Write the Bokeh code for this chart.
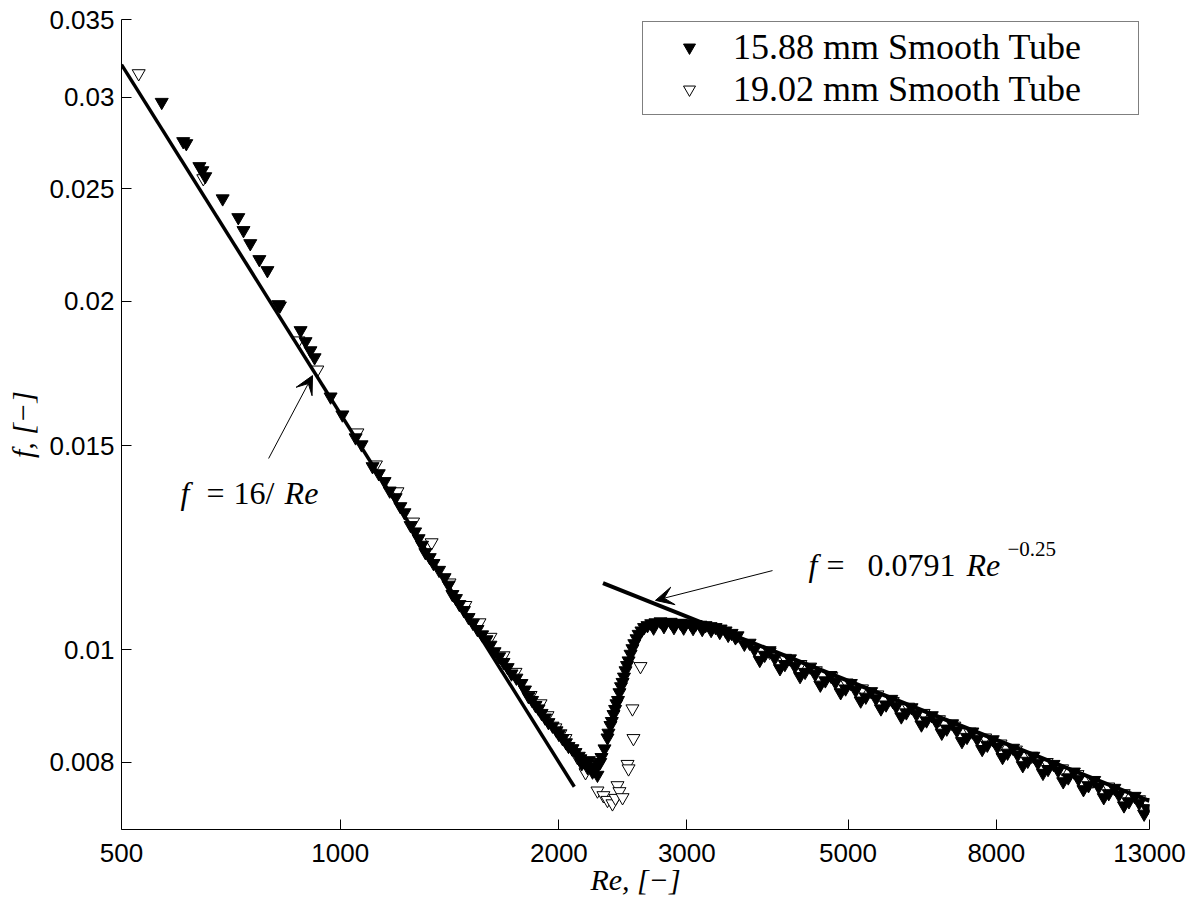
from bokeh.plotting import figure
from bokeh.models import (Range1d, FixedTicker, Label, Arrow, VeeHead, Legend,
                          LegendItem, ColumnDataSource)
from bokeh.embed import file_html
from bokeh.resources import INLINE

# ---------------- data ----------------
# 15.88 mm smooth tube (filled markers)
re_a_lam = [568, 608, 614, 640, 646, 652, 689, 724, 736, 752,
            774, 794, 822, 826, 882, 896, 910, 922, 970, 1007,
            1050, 1070, 1108, 1130, 1151, 1170, 1192, 1210, 1226, 1250,
            1268, 1282, 1296, 1310, 1328, 1344, 1368, 1392, 1410, 1427,
            1443, 1459, 1480, 1502, 1523, 1545, 1568, 1590, 1610, 1631,
            1655, 1678, 1700, 1721, 1748, 1776, 1796, 1816, 1837, 1857,
            1875, 1893, 1914, 1935, 1960, 1985, 2000, 2023, 2045, 2062,
            2085, 2108]
f_a_lam = [0.0297, 0.02747, 0.02736, 0.02614, 0.02593, 0.02562, 0.02452, 0.02362, 0.02302, 0.02243,
           0.02173, 0.02126, 0.01987, 0.01982, 0.01887, 0.01846, 0.01813, 0.01788, 0.01654, 0.01596,
           0.01525, 0.01504, 0.0144, 0.0142, 0.01398, 0.01372, 0.01354, 0.0133, 0.01314, 0.01281,
           0.01265, 0.01248, 0.01232, 0.01214, 0.01202, 0.01188, 0.01172, 0.01155, 0.01138, 0.01117,
           0.01108, 0.01095, 0.01082, 0.01067, 0.01055, 0.01042, 0.01031, 0.01021, 0.0101, 0.00997,
           0.00987, 0.00976, 0.00966, 0.00954, 0.00946, 0.00936, 0.00924, 0.00912, 0.00905, 0.00896,
           0.0089, 0.00882, 0.00874, 0.00866, 0.0086, 0.00852, 0.00846, 0.00839, 0.00832, 0.00826,
           0.00822, 0.00816]
re_a_trans = [2130, 2141, 2150, 2176, 2190, 2200, 2210, 2225, 2239, 2250,
              2260, 2267, 2280, 2289, 2311, 2333, 2340, 2355, 2365, 2378,
              2390, 2400, 2412, 2423, 2435, 2447, 2458, 2470, 2482, 2494,
              2510, 2525, 2540, 2558, 2575, 2598, 2620, 2648, 2680, 2716]
f_a_trans = [0.0081, 0.00806, 0.00798, 0.008, 0.00792, 0.00803, 0.00793, 0.00785, 0.00787, 0.00792,
             0.0078, 0.00797, 0.008, 0.00808, 0.00822, 0.0084, 0.00848, 0.00861, 0.00868, 0.0088,
             0.00889, 0.00899, 0.00905, 0.00919, 0.0093, 0.00938, 0.00948, 0.0096, 0.0097, 0.00979,
             0.00992, 0.01003, 0.01013, 0.01023, 0.01032, 0.01039, 0.01046, 0.0105, 0.01054, 0.01056]
re_a_plat = [2700, 2760, 2790, 2804, 2850, 2880, 2894, 2940, 2970, 2988,
             3036, 3060, 3084, 3133, 3150, 3183, 3234, 3240, 3286, 3330,
             3339, 3392, 3420, 3457, 3500, 3523]
f_a_plat = [0.01045, 0.01058, 0.01048, 0.01056, 0.01057, 0.01046, 0.01054, 0.01055, 0.01045, 0.01054,
            0.01053, 0.01044, 0.01052, 0.01051, 0.01042, 0.0105, 0.01048, 0.0104, 0.01046, 0.01036,
            0.01043, 0.01039, 0.0103, 0.01034, 0.01025, 0.01029]
re_a_turb = [3600, 3717, 3839, 3964, 4093, 4226, 4364, 4506, 4653, 4805,
             4962, 5123, 5290, 5463, 5641, 5825, 6015, 6211, 6413, 6622,
             6838, 7061, 7291, 7529, 7775, 8028, 8290, 8560, 8839, 9127,
             9425, 9732, 10049, 10377, 10715, 11065, 11425, 11798, 12182, 12579,
             12900,
             3780, 4030, 4295, 4580, 4885, 5205, 5550, 5920, 6310, 6730,
             7175, 7650, 8160, 8700, 9275, 9890, 10545, 11245, 11990, 12780,
             3660, 3900, 4160, 4435, 4730, 5045, 5380, 5735, 6115, 6520,
             6955, 7415, 7910, 8435, 8995, 9590, 10230, 10910, 11630, 12400]
f_a_turb = [0.01012, 0.01001, 0.0099, 0.00984, 0.00972, 0.00968, 0.00957, 0.00953, 0.00941, 0.00938,
            0.00926, 0.00923, 0.00911, 0.00908, 0.00897, 0.00894, 0.00883, 0.0088, 0.00869, 0.00866,
            0.00855, 0.00852, 0.00841, 0.00838, 0.00828, 0.00825, 0.00815, 0.00812, 0.00802, 0.00799,
            0.00789, 0.00787, 0.00776, 0.00774, 0.00764, 0.00762, 0.00752, 0.0075, 0.0074, 0.00738,
            0.0073,
            0.0098, 0.00964, 0.00949, 0.00933, 0.00919, 0.00904, 0.0089, 0.00876, 0.00862, 0.00848,
            0.00834, 0.00821, 0.00808, 0.00795, 0.00783, 0.0077, 0.00758, 0.00746, 0.00734, 0.00722,
            0.01014, 0.00999, 0.00983, 0.00967, 0.00951, 0.00936, 0.00921, 0.00907, 0.00892, 0.00878,
            0.00864, 0.0085, 0.00837, 0.00823, 0.0081, 0.00797, 0.00785, 0.00772, 0.0076, 0.00748]

# 19.02 mm smooth tube (open markers)
re_b_lam = [528, 648, 876, 930, 1056, 1120, 1199, 1260, 1336, 1414,
            1487, 1555, 1610, 1678, 1743, 1828, 1887, 1929, 1978, 2010,
            2042, 2088, 2121, 2176]
f_b_lam = [0.03144, 0.02552, 0.01849, 0.01745, 0.0154, 0.01445, 0.0137, 0.0129, 0.01238, 0.01143,
           0.01093, 0.01056, 0.01026, 0.00989, 0.00957, 0.00914, 0.00899, 0.00878, 0.00857, 0.00847,
           0.00839, 0.00822, 0.00808, 0.00784]
re_b_dip = [2260, 2303, 2333, 2370, 2393, 2408, 2423, 2447, 2486, 2494, 2525, 2533, 2590]
f_b_dip = [0.00756, 0.00749, 0.00742, 0.00737, 0.00745, 0.00764, 0.00755, 0.00746, 0.00797, 0.0079,
           0.0089, 0.00839, 0.00968]
re_b_turb = [3900, 4095, 4300, 4515, 4741, 4978, 5227, 5488, 5762, 6050,
             6353, 6671, 7004, 7354, 7722, 8108, 8513, 8939, 9386, 9855,
             10348, 10865, 11408, 11979, 12578, 12900]
f_b_turb = [0.00996, 0.00984, 0.00972, 0.0096, 0.00949, 0.00937, 0.00926, 0.00915, 0.00903, 0.00893,
            0.00882, 0.00871, 0.0086, 0.0085, 0.0084, 0.0083, 0.0082, 0.0081, 0.008, 0.0079,
            0.00781, 0.00771, 0.00762, 0.00752, 0.00743, 0.00739]

# correlation lines (end points)
lam_re = [500, 2100]
lam_f = [0.032, 0.00762]
turb_re = [2300, 13000]
turb_f = [0.01142, 0.00741]

# ticks
x_ticks = [500, 1000, 2000, 3000, 5000, 8000, 13000]
x_tick_labels = ["500", "1000", "2000", "3000", "5000", "8000", "13000"]
y_ticks = [0.008, 0.01, 0.015, 0.02, 0.025, 0.03, 0.035]
y_tick_labels = ["0.008", "0.01", "0.015", "0.02", "0.025", "0.03", "0.035"]

label_a = "15.88 mm Smooth Tube"
label_b = "19.02 mm Smooth Tube"

# ---------------- figure ----------------
src_a = ColumnDataSource(dict(re=re_a_lam + re_a_trans + re_a_plat + re_a_turb,
                              f=f_a_lam + f_a_trans + f_a_plat + f_a_turb))
src_b = ColumnDataSource(dict(re=re_b_lam + re_b_dip + re_b_turb,
                              f=f_b_lam + f_b_dip + f_b_turb))

p = figure(x_axis_type="log", y_axis_type="log",
           x_range=Range1d(500, 13000), y_range=Range1d(0.007, 0.035),
           frame_width=1028, frame_height=810,
           min_border_left=121, min_border_top=19, min_border_right=41, min_border_bottom=68,
           output_backend="svg", toolbar_location=None)
p.xgrid.visible = False
p.ygrid.visible = False
p.outline_line_color = None
p.background_fill_color = "white"
p.border_fill_color = "white"

for ax in (p.xaxis[0], p.yaxis[0]):
    ax.axis_line_color = "black"
    ax.axis_line_width = 1
    ax.major_tick_in = 10
    ax.major_tick_out = 0
    ax.major_tick_line_color = "black"
    ax.minor_tick_line_color = None
    ax.major_label_text_font = "Liberation Sans"
    ax.major_label_text_font_size = "26px"
    ax.major_label_text_color = "black"
    ax.axis_label_text_font = "Liberation Serif"
    ax.axis_label_text_font_style = "italic"
    ax.axis_label_text_font_size = "30px"
    ax.axis_label_text_color = "black"

p.xaxis.ticker = FixedTicker(ticks=x_ticks, minor_ticks=[])
p.yaxis.ticker = FixedTicker(ticks=y_ticks, minor_ticks=[])
p.xaxis.major_label_overrides = dict(zip(x_ticks, x_tick_labels))
p.yaxis.major_label_overrides = dict(zip(y_ticks, y_tick_labels))
p.xaxis.axis_label = "Re, [\u2212]"
p.yaxis.axis_label = "f, [\u2212]"
p.xaxis.major_label_standoff = 14
p.yaxis.major_label_standoff = 7
p.xaxis.axis_label_standoff = -2
p.yaxis.axis_label_standoff = 7

rb = p.scatter("re", "f", source=src_b, marker="inverted_triangle", size=13,
               fill_color="white", line_color="black", line_width=1)
ra = p.scatter("re", "f", source=src_a, marker="inverted_triangle", size=13,
               fill_color="black", line_color="black", line_width=1)

p.line(lam_re, lam_f, line_width=3.5, line_color="black")
p.line(turb_re, turb_f, line_width=4, line_color="black")

# annotations
p.add_layout(Arrow(end=VeeHead(size=18, fill_color="black", line_color="black"),
                   x_start=797, y_start=0.01463, x_end=916, y_end=0.01725,
                   line_width=1, line_color="black"))
p.add_layout(Arrow(end=VeeHead(size=18, fill_color="black", line_color="black"),
                   x_start=3936, y_start=0.011709, x_end=2716, y_end=0.011036,
                   line_width=1, line_color="black"))

def piece(x, y, dx, dy, txt, size, italic):
    p.add_layout(Label(x=x, y=y, x_offset=dx, y_offset=dy, text=txt,
                       text_font="Liberation Serif",
                       text_font_style="italic" if italic else "normal",
                       text_font_size=size, text_color="black",
                       text_align="left", text_baseline="middle"))

# f = 16/Re
ax1, ay1 = 603, 0.01367
piece(ax1, ay1, 0, 0, "f", "32px", True)
piece(ax1, ay1, 26, 0, "=", "32px", False)
piece(ax1, ay1, 53, 0, "16/", "32px", False)
piece(ax1, ay1, 104, 0, "Re", "32px", True)

# f = 0.0791 Re^-0.25
ax2, ay2 = 4411, 0.011828
piece(ax2, ay2, 0, 0, "f", "32px", True)
piece(ax2, ay2, 18, 0, "=", "32px", False)
piece(ax2, ay2, 59, 0, "0.0791", "32px", False)
piece(ax2, ay2, 158, 0, "Re", "32px", True)
piece(ax2, ay2, 199, 16, "\u22120.25", "21px", False)

legend = Legend(items=[LegendItem(label=label_a, renderers=[ra]),
                       LegendItem(label=label_b, renderers=[rb])],
                location=(521, 714))
legend.label_text_font = "Liberation Serif"
legend.label_text_font_size = "36px"
legend.label_text_color = "black"
legend.border_line_color = "black"
legend.border_line_width = 1
legend.background_fill_color = "white"
legend.background_fill_alpha = 1
legend.padding = 4
legend.spacing = 0
legend.glyph_width = 84
legend.glyph_height = 30
legend.label_standoff = 2
legend.label_width = 401
legend.label_height = 30
legend.margin = 0
p.add_layout(legend)

open("out.html", "w").write(file_html(p, INLINE))
